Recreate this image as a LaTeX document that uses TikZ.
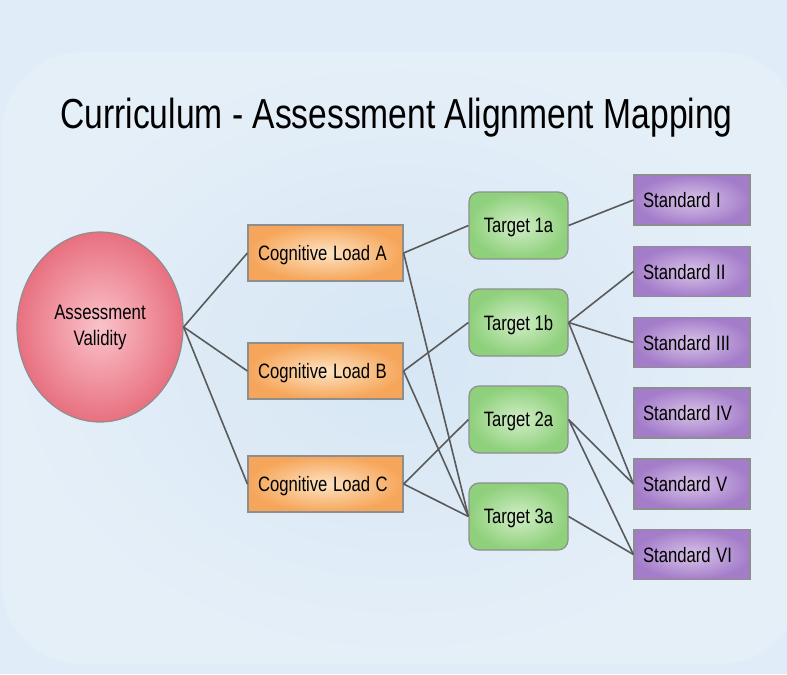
\documentclass[tikz,border=0pt]{standalone}
\usepackage{fontspec}
\setmainfont{Liberation Sans}
\usepackage{graphicx}
\definecolor{backdrop}{HTML}{E0ECF7}
\definecolor{backmid}{HTML}{D6E6F4}
\definecolor{backlight}{HTML}{E5EFF8}
\definecolor{validity}{HTML}{E8707F}
\definecolor{validitylight}{HTML}{FAC3CB}
\definecolor{load}{HTML}{F6A65A}
\definecolor{loadlight}{HTML}{FDE3C3}
\definecolor{target}{HTML}{8ED07B}
\definecolor{targetlight}{HTML}{D2EEC8}
\definecolor{standard}{HTML}{A47DCA}
\definecolor{standardlight}{HTML}{D8C3E8}
\definecolor{linkgray}{HTML}{5A5A5A}
\definecolor{edgegray}{HTML}{8E8E8E}
\usetikzlibrary{shapes.geometric}
\newcommand{\tall}[1]{\scalebox{1}[1.25]{#1}}

\begin{document}
\begin{tikzpicture}[x=0.75pt, y=-0.75pt,
  box/.style={draw=edgegray, line width=0.9pt, inner ysep=0pt, text depth=0pt,
    font=\fontsize{12.5}{15.6}\selectfont},
  loadbox/.style={box, inner color=loadlight, outer color=load,
    minimum height=42pt, inner xsep=7.5pt, text width=101.25pt, align=left},
  targetbox/.style={box, inner color=targetlight, outer color=target,
    rounded corners=7.5pt, minimum width=74.25pt, minimum height=50.25pt},
  standardbox/.style={box, inner color=standardlight, outer color=standard,
    minimum height=37.5pt, inner xsep=6.75pt, text width=73.5pt, align=left},
  link/.style={draw=linkgray, line width=1.2pt}]

% background
\useasboundingbox (0,0) rectangle (787,674);
\fill[backdrop] (0,0) rectangle (787,674);
\shade[inner color=backmid, outer color=backlight, rounded corners=60pt]
  (2,52) rectangle (800,664);

\node[anchor=base, font=\fontsize{25.2}{30}\selectfont] (title) at (396.5,128)
  {\tall{Curriculum - Assessment Alignment Mapping}};

% root
\node[ellipse, draw=edgegray, line width=0.9pt, inner color=validitylight, outer color=validity,
      minimum width=124.5pt, minimum height=142.5pt, font=\fontsize{12.6}{15.6}\selectfont]
  (validity) at (100,327) {\tall{\begin{tabular}{@{}c@{}}Assessment\\Validity\end{tabular}}};

% cognitive loads
\node[loadbox] (loadA) at (325.5,253) {\tall{Cognitive Load A}};
\node[loadbox] (loadB) at (325.5,371) {\tall{Cognitive Load B}};
\node[loadbox] (loadC) at (325.5,484) {\tall{Cognitive Load C}};

% targets
\node[targetbox] (t1a) at (518.5,225.5) {\tall{Target 1a}};
\node[targetbox] (t1b) at (518.5,322.5) {\tall{Target 1b}};
\node[targetbox] (t2a) at (518.5,419.5) {\tall{Target 2a}};
\node[targetbox] (t3a) at (518.5,516.5) {\tall{Target 3a}};

% standards
\node[standardbox] (s1) at (692,200)   {\tall{Standard I}};
\node[standardbox] (s2) at (692,271.5) {\tall{Standard II}};
\node[standardbox] (s3) at (692,342.5) {\tall{Standard III}};
\node[standardbox] (s4) at (692,413)   {\tall{Standard IV}};
\node[standardbox] (s5) at (692,484)   {\tall{Standard V}};
\node[standardbox] (s6) at (692,554.5) {\tall{Standard VI}};

% links
\foreach \from/\to in {validity/loadA, validity/loadB, validity/loadC,
    loadA/t1a, loadA/t3a, loadB/t1b, loadB/t3a, loadC/t2a, loadC/t3a,
    t1a/s1, t1b/s2, t1b/s3, t1b/s5, t2a/s5, t2a/s6, t3a/s6}
  \draw[link] (\from.east) -- (\to.west);
\end{tikzpicture}
\end{document}
